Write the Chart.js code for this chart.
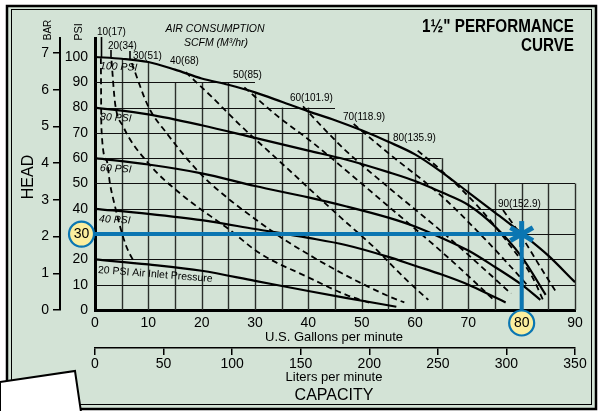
<!DOCTYPE html>
<html>
<head>
<meta charset="utf-8">
<script src="https://cdn.jsdelivr.net/npm/chart.js@4.4.1/dist/chart.umd.min.js"></script>
<style>
html, body { margin: 0; padding: 0; background: #fff; }
#wrap { width: 600px; height: 411px; }
</style>
</head>
<body>
<div id="wrap"><canvas id="c" width="600" height="411"></canvas></div>
<script>
// head (psi) against flow (US gpm), one curve per air inlet pressure
var psi100 = [[0,100],[5,99.3],[10,98],[15,95],[20,91.5],[25,89],[30,86],[35,82.3],[40,78.5],[45,75],[50,71],[55,66.5],[60,61.5],[65,54.5],[70,46.5],[75,38.5],[80,30.3],[85,21.5],[90,11]];
var psi80 = [[0,80],[10,77.3],[20,73],[30,68],[40,63],[47,59.5],[55,54.5],[60,51],[65,46.5],[70,41.5],[75,33],[80,21],[84.5,6]];
var psi60 = [[0,60],[10,57.5],[20,54],[30,49],[40,44.5],[47,41],[55,36.5],[60,33],[65,28.5],[70,23.5],[75,17],[80,10],[83.5,4]];
var psi40 = [[0,40],[10,38],[20,35.5],[30,32],[40,28.5],[47,25.7],[55,21],[60,17.5],[65,14],[70,10],[75,5],[77,3]];
var psi20 = [[0,20],[10,18],[20,15.5],[30,11.5],[40,7.5],[47,4.8],[56.5,1.3]];

// air consumption lines, scfm (m3/hr)
var airLabels = ['10(17)','20(34)','30(51)','40(68)','50(85)','60(101.9)','70(118.9)','80(135.9)','90(152.9)'];
var air10 = [[1.1,99.5],[1.2,72],[2.2,59],[2.8,50],[3.75,41],[4.7,33],[5.9,25],[7.5,18.3]];
var air20 = [[3.1,98.5],[3.75,82],[5.3,72.5],[10,58],[16,46],[25.3,31.6],[30.9,22.4],[39.7,13.2],[47.2,5.9],[51.9,2.6]];
var air30 = [[6.9,97.5],[10,80.4],[13.4,70],[19.7,54],[25,44],[30,36],[35,28.5],[40,22],[45,16],[50,10.5],[55,5.5],[58,3]];
var air40 = [[17,94],[22,84],[27,73.5],[35,58],[45.9,36.9],[52.2,25],[58.4,11.9],[62.5,4]];
var air50 = [[28,88],[34,77],[40.9,66],[48,53.5],[55,41],[65,23],[72,9.5],[75,3.5]];
var air60 = [[39,80.5],[43,71.5],[47,63],[55,48.5],[65,31],[72,18],[78,6.5]];
var air70 = [[48.5,73.5],[55,62],[65,45],[72,30.5],[78,17],[81.3,9.2]];
var air80 = [[60.5,63],[65,55],[72,40.5],[78,25],[82,13],[84,4]];
var air90 = [[76.5,39.5],[80,29],[83.5,17],[86.6,6.6]];

// duty point: 80 gpm at 30 psi
var dutyGpm = 80;
var dutyPsi = 30;

// bar tick values on the outer head axis
var barTicks = [0,1,2,3,4,5,6,7];

// grid is cut as a staircase under the top curve
var gridGpm = [5,10,15,20,25,30,35,40,45,50,55,60,65,70,75,80,85,90];
var gridTop = [99.3,98,90,90,90,86,80,80,70,70,70,60,60,50,50,50,50,50];
var gridPsi = [10,20,30,40,50,60,70,80,90];
var gridEnd = [90,90,90,90,90,65,55,45,30];

var FONT = '"Liberation Sans", Arial, sans-serif';
var BLUE = '#0b76b2';
var PANEL = '#d3e3d6';

function pts(a){ return a.map(function(p){ return {x:p[0], y:p[1]}; }); }

function solid(data){
    return { data: pts(data), showLine: true, borderColor: '#000', borderWidth: 2.2,
             pointRadius: 0, cubicInterpolationMode: 'monotone', order: 2 };
}
function dashed(data){
    return { data: pts(data), showLine: true, borderColor: '#000', borderWidth: 1.8,
             borderDash: [6,4], pointRadius: 0, cubicInterpolationMode: 'monotone', order: 3 };
}

var datasets = [
    { data: pts([[0,dutyPsi],[dutyGpm,dutyPsi],[dutyGpm,0]]), showLine: true, borderColor: BLUE,
      borderWidth: 4, pointRadius: 0, tension: 0, order: 0 },
    solid(psi100), solid(psi80), solid(psi60), solid(psi40), solid(psi20),
    dashed(air10), dashed(air20), dashed(air30), dashed(air40), dashed(air50),
    dashed(air60), dashed(air70), dashed(air80), dashed(air90)
];

// white page, green panel with a double frame
var panelPlugin = {
    id: 'panel',
    beforeDraw: function(chart){
        var ctx = chart.ctx;
        ctx.save();
        ctx.fillStyle = '#fff';
        ctx.fillRect(0, 0, 600, 411);
        ctx.fillStyle = PANEL;
        ctx.fillRect(7, 6, 589, 403);
        ctx.strokeStyle = '#000';
        ctx.lineWidth = 2.5;
        ctx.strokeRect(7, 6, 589, 403);
        ctx.lineWidth = 1;
        ctx.strokeRect(11.5, 9.5, 580, 395);
        ctx.restore();
    }
};

var gridPlugin = {
    id: 'stairGrid',
    beforeDatasetsDraw: function(chart){
        var ctx = chart.ctx, xs = chart.scales.x, ys = chart.scales.y;
        ctx.save();
        ctx.strokeStyle = '#2b2f2b';
        ctx.lineWidth = 1.4;
        gridGpm.forEach(function(g, i){
            var px = Math.round(xs.getPixelForValue(g)) + 0.5;
            ctx.beginPath();
            ctx.moveTo(px, ys.getPixelForValue(0));
            ctx.lineTo(px, ys.getPixelForValue(gridTop[i]));
            ctx.stroke();
        });
        ctx.strokeStyle = '#111';
        ctx.lineWidth = 1.2;
        gridPsi.forEach(function(p, i){
            var py = Math.round(ys.getPixelForValue(p)) + 0.5;
            ctx.beginPath();
            ctx.moveTo(xs.getPixelForValue(0), py);
            ctx.lineTo(xs.getPixelForValue(gridEnd[i]), py);
            ctx.stroke();
        });
        ctx.restore();
    }
};

function text(ctx, s, x, y, font, align, rot, sx){
    ctx.save();
    ctx.translate(x, y);
    if (rot) ctx.rotate(rot * Math.PI / 180);
    if (sx) ctx.scale(sx, 1);
    ctx.font = font;
    ctx.textAlign = align || 'left';
    ctx.textBaseline = 'middle';
    ctx.fillStyle = '#000';
    ctx.fillText(s, 0, 0);
    ctx.restore();
}

function badge(ctx, s, x, y){
    ctx.save();
    ctx.beginPath();
    ctx.arc(x, y, 12.5, 0, Math.PI * 2);
    ctx.fillStyle = '#fbee9e';
    ctx.fill();
    ctx.lineWidth = 2.2;
    ctx.strokeStyle = BLUE;
    ctx.stroke();
    ctx.restore();
    text(ctx, s, x, y + 0.5, '14px ' + FONT, 'center');
}

var labelPos = [[97,32],[108,46],[133,56],[170,61],[233,75],[290,98],[343,117],[393,138],[498,204]];

var textPlugin = {
    id: 'texts',
    afterDraw: function(chart){
        var ctx = chart.ctx, xs = chart.scales.x, ys = chart.scales.y;
        var ca = chart.chartArea;
        var cx = (ca.left + ca.right) / 2;

        text(ctx, 'BAR', 48, 30, '10px ' + FONT, 'center', -90);
        text(ctx, 'PSI', 78.5, 32, '11px ' + FONT, 'center', -90);
        text(ctx, 'HEAD', 29, 177, '16px ' + FONT, 'center', -90);

        text(ctx, '1\u00bd" PERFORMANCE', 574, 27, 'bold 17.5px ' + FONT, 'right', 0, 0.87);
        text(ctx, 'CURVE', 574, 46, 'bold 17.5px ' + FONT, 'right', 0, 0.87);

        text(ctx, 'AIR CONSUMPTION', 215, 29, 'italic 10.5px ' + FONT, 'center');
        text(ctx, 'SCFM (M\u00b3/hr)', 216, 43.5, 'italic 10.5px ' + FONT, 'center');

        airLabels.forEach(function(s, i){
            text(ctx, s, labelPos[i][0], labelPos[i][1], '10px ' + FONT, 'left');
        });
        // leader ticks for the first three air labels
        ctx.save();
        ctx.strokeStyle = '#000';
        ctx.lineWidth = 1.6;
        [[101.5,37,57],[111,50,57],[130,51,59]].forEach(function(l){
            ctx.beginPath(); ctx.moveTo(l[0], l[1]); ctx.lineTo(l[0], l[2]); ctx.stroke();
        });
        ctx.restore();

        text(ctx, '100 PSI', 100, 66, 'italic 10.5px ' + FONT, 'left', 3);
        text(ctx, '80 PSI', 100, 117, 'italic 10.5px ' + FONT, 'left', 3);
        text(ctx, '60 PSI', 100, 168, 'italic 10.5px ' + FONT, 'left', 3);
        text(ctx, '40 PSI', 99, 219, 'italic 10.5px ' + FONT, 'left', 3);
        text(ctx, '20 PSI Air Inlet Pressure', 98, 270, '10.5px ' + FONT, 'left', 4.5);

        text(ctx, 'U.S. Gallons per minute', cx - 1, 337, '13px ' + FONT, 'center');
        text(ctx, 'Liters per minute', cx - 1, 377, '13px ' + FONT, 'center');
        text(ctx, 'CAPACITY', cx - 1, 396, '16px ' + FONT, 'center');

        // duty point star
        var sx = xs.getPixelForValue(dutyGpm), sy = ys.getPixelForValue(dutyPsi);
        ctx.save();
        ctx.strokeStyle = BLUE;
        ctx.lineWidth = 5;
        [90, 30, 150].forEach(function(a){
            var r = a * Math.PI / 180;
            ctx.beginPath();
            ctx.moveTo(sx - 13 * Math.cos(r), sy - 13 * Math.sin(r));
            ctx.lineTo(sx + 13 * Math.cos(r), sy + 13 * Math.sin(r));
            ctx.stroke();
        });
        ctx.restore();

        badge(ctx, String(dutyPsi), 81.5, sy);
        badge(ctx, String(dutyGpm), sx, 323);

        // white card corner at the bottom left
        ctx.save();
        ctx.beginPath();
        ctx.moveTo(0, 382); ctx.lineTo(75, 371); ctx.lineTo(81, 412); ctx.lineTo(0, 412);
        ctx.closePath();
        ctx.fillStyle = '#fff';
        ctx.fill();
        ctx.strokeStyle = '#000';
        ctx.lineWidth = 2;
        ctx.stroke();
        ctx.restore();
    }
};

var tickFont = { family: FONT, size: 14 };

new Chart(document.getElementById('c'), {
    type: 'scatter',
    data: { datasets: datasets },
    options: {
        responsive: false,
        animation: false,
        layout: { padding: { left: 0, right: 25, top: 38, bottom: 41 } },
        plugins: { legend: { display: false }, tooltip: { enabled: false } },
        scales: {
            x: {
                type: 'linear', position: 'bottom', min: 0, max: 90, weight: 0,
                afterFit: function(s){ s.height = 38; },
                grid: { display: true, drawOnChartArea: false, drawTicks: false },
                border: { display: true, color: '#000', width: 3 },
                ticks: { stepSize: 10, autoSkip: false, maxRotation: 0, padding: 5, color: '#000', font: tickFont }
            },
            x2: {
                type: 'linear', position: 'bottom', min: 0, max: 350, weight: 1,
                afterFit: function(s){ s.height = 22; },
                grid: { display: true, drawOnChartArea: false, drawTicks: true, tickLength: 7, color: '#000', lineWidth: 1.5 },
                border: { display: true, color: '#000', width: 1.5 },
                ticks: { stepSize: 50, autoSkip: false, maxRotation: 0, padding: 1, color: '#000', font: tickFont }
            },
            y: {
                type: 'linear', position: 'left', min: 0, max: 107.5, weight: 0,
                afterFit: function(s){ s.width = 35; },
                afterBuildTicks: function(s){ s.ticks = s.ticks.filter(function(t){ return t.value % 10 === 0; }); },
                grid: { display: true, drawOnChartArea: false, drawTicks: false },
                border: { display: true, color: '#000', width: 3 },
                ticks: { stepSize: 10, autoSkip: false, padding: 7, color: '#000', font: tickFont }
            },
            bar: {
                type: 'linear', position: 'left', min: 0, max: 107.5 / 14.5038, weight: 1,
                afterFit: function(s){ s.width = 60; },
                afterBuildTicks: function(s){ s.ticks = barTicks.map(function(v){ return { value: v }; }); },
                grid: { display: true, drawOnChartArea: false, drawTicks: true, tickLength: 7, color: '#000', lineWidth: 1.5 },
                border: { display: true, color: '#000', width: 2 },
                ticks: { autoSkip: false, padding: 4, color: '#000', font: tickFont }
            }
        }
    },
    plugins: [panelPlugin, gridPlugin, textPlugin]
});
</script>
</body>
</html>
